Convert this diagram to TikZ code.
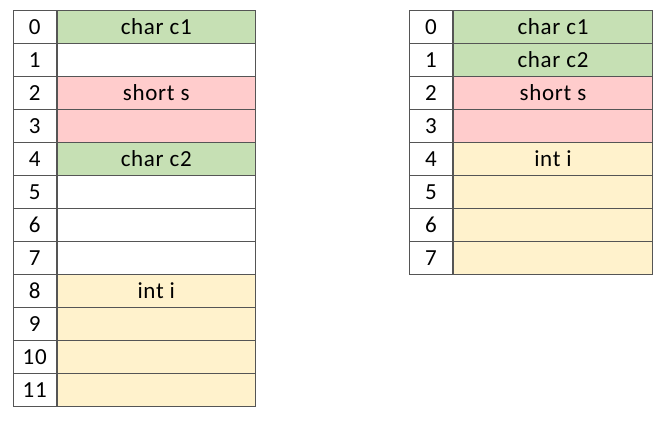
\documentclass[tikz,border=0pt]{standalone}
\usepackage{fontspec}
\setmainfont{Carlito}
\newfontfamily\cellfont[LetterSpace=3]{Carlito}
\usepackage{xcolor}
\definecolor{LineGray}{RGB}{85,85,85}
\definecolor{FillGreen}{RGB}{198,224,180}
\definecolor{FillRed}{RGB}{255,204,204}
\definecolor{FillTan}{RGB}{255,242,204}
\usetikzlibrary{positioning}
\tikzset{
  % Index cell (left column)
  idxcell/.style={
    rectangle, draw=LineGray, line width=1pt,
    fill=white, anchor=north west,
    minimum width=42.5pt, minimum height=33pt,
    inner sep=0pt, font=\cellfont\fontsize{23}{23}\selectfont
  },
  % Memory cell (right column)
  memcell/.style={idxcell, minimum width=198.5pt},
}

\begin{document}
\begin{tikzpicture}[x=1pt, y=-1pt]
  \useasboundingbox (0,0) rectangle (666,421);

  % Left layout: c1, s, c2, i
  \foreach \i/\fc/\lbl in {
    0/FillGreen/{char c1}, 1/white/{}, 2/FillRed/{short s}, 3/FillRed/{},
    4/FillGreen/{char c2}, 5/white/{}, 6/white/{}, 7/white/{},
    8/FillTan/{int i}, 9/FillTan/{}, 10/FillTan/{}, 11/FillTan/{}}{
    \node[idxcell] (lidx\i) at (13,10+33*\i) {\i};
    \node[memcell, fill=\fc, anchor=north west] (lmem\i) at (lidx\i.north east) {\lbl};
  }

  % Right layout: c1, c2, s, i
  \foreach \i/\fc/\lbl in {
    0/FillGreen/{char c1}, 1/FillGreen/{char c2}, 2/FillRed/{short s}, 3/FillRed/{},
    4/FillTan/{int i}, 5/FillTan/{}, 6/FillTan/{}, 7/FillTan/{}}{
    \node[idxcell, minimum width=43pt] (ridx\i) at (409,10+33*\i) {\i};
    \node[memcell, fill=\fc, anchor=north west, minimum width=199pt] (rmem\i) at (ridx\i.north east) {\lbl};
  }
\end{tikzpicture}
\end{document}
